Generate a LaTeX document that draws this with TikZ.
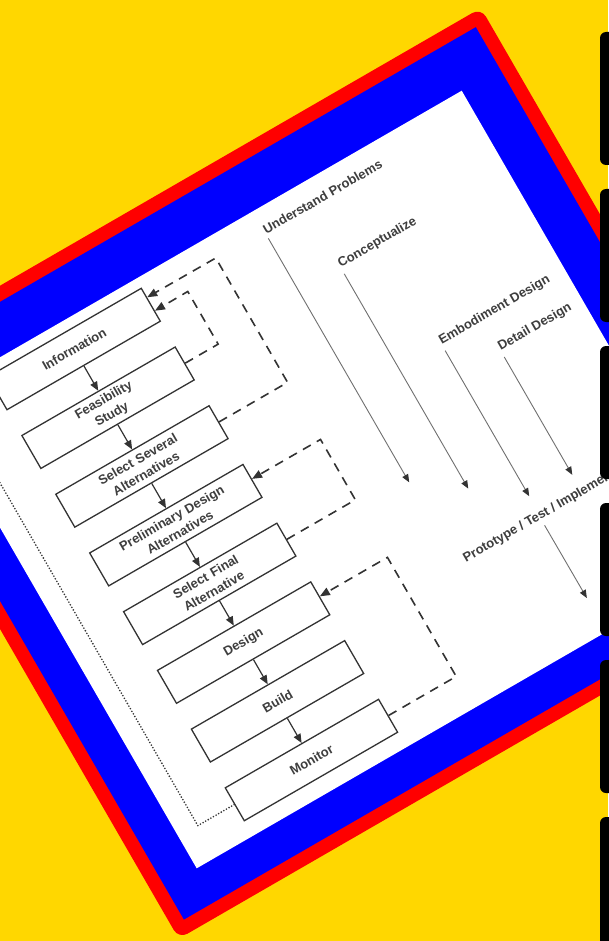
\documentclass[tikz,border=0pt]{standalone}
\usepackage{fontspec}
\setmainfont{Liberation Sans}
\usetikzlibrary{arrows.meta, calc}
\definecolor{bggold}{HTML}{FFD700}
\definecolor{framered}{HTML}{FF0000}
\definecolor{frameblue}{HTML}{0000FF}
\definecolor{inkgray}{HTML}{333333}
\definecolor{textgray}{HTML}{3E3E3E}
\definecolor{phasegray}{HTML}{707070}
\begin{document}
\begin{tikzpicture}[
    x=1pt, y=1pt,
  stagebox/.style={rectangle, draw=inkgray, line width=1.3pt, fill=white, minimum width=177pt, minimum height=38pt, text width=172pt, align=center, inner sep=0pt, text=textgray, font=\bfseries\fontsize{13}{16.5}\selectfont},
  phaselabel/.style={inner xsep=0pt, inner ysep=4pt, anchor=base west, text=textgray, font=\bfseries\fontsize{13}{16}\selectfont},
  phasearrow/.style={-{Triangle[length=8pt,width=6.5pt,color=inkgray]}, draw=phasegray, line width=0.9pt},
  flowarrow/.style={-{Triangle[length=9pt,width=7.5pt]}, draw=inkgray, line width=1.2pt},
  feedback/.style={-{Triangle[length=10pt,width=8pt]}, draw=inkgray, line width=1.6pt, dash pattern=on 9pt off 7pt},
  returnline/.style={draw=inkgray, line width=1.8pt, line cap=round, dash pattern=on 0pt off 3pt}
]
\useasboundingbox (0,0) rectangle (608,-941);
\fill[bggold] (0,0) rectangle (608,-941);

\begin{scope}[shift={(196.7,-868.3)}, rotate=30, transform shape]
% Frame
\fill[framered, rounded corners=10pt] (-50.7,-52) rectangle (676.3,602.9);
\fill[frameblue] (-36.7,-38) rectangle (662.3,588.9);
\fill[white] (0,0) rectangle (618.3,540.9);

% Stage boxes
\node[stagebox] (info) at (153.5,511) {Information};
\node[stagebox] (feas) at (153.5,443.2) {Feasibility\\Study};
\node[stagebox] (several) at (153.5,375.4) {Select Several\\Alternatives};
\node[stagebox] (prelim) at (153.5,307.6) {Preliminary Design\\Alternatives};
\node[stagebox] (final) at (153.5,239.8) {Select Final\\Alternative};
\node[stagebox] (design) at (153.5,172) {Design};
\node[stagebox] (build) at (153.5,104.2) {Build};
\node[stagebox] (monitor) at (153.5,36.4) {Monitor};

% Arrows
\draw[flowarrow] (info) -- (feas);
\draw[flowarrow] (feas) -- (several);
\draw[flowarrow] (several) -- (prelim);
\draw[flowarrow] (prelim) -- (final);
\draw[flowarrow] (final) -- (design);
\draw[flowarrow] (design) -- (build);
\draw[flowarrow] (build) -- (monitor);

% Feedback loops
\draw[feedback] (feas.east) -- ++(38,0) -- ++(0,60.8) -- ($(info.east)!0.37!(info.south east)$);
\draw[feedback] (several.east) -- ++(79,0) -- ++(0,143.6) -- ($(info.east)!0.42!(info.north east)$);
\draw[feedback] (final.east) -- ++(79,0) -- ++(0,69.7) -- ($(prelim.east)!0.1!(prelim.north east)$);
\draw[feedback] (monitor.east) -- ++(78,0) -- ++(0,137.5) -- ($(design.east)!0.1!(design.north east)$);
\draw[returnline] (monitor.west) -- ++(-42,0) -- ++(0,474.6) -- (info.west);

% Phases
\node[phaselabel] (understand) at (377,514) {Understand Problems};
\node[phaselabel] (conceptual) at (425,448) {Conceptualize};
\node[phaselabel] (embodiment) at (474,331) {Embodiment Design};
\node[phaselabel] (detail) at (522,296) {Detail Design};
\node[phaselabel] (prototype) at (386,130) {Prototype / Test / Implement};

\coordinate (understandEnd) at (377,228);
\coordinate (conceptualEnd) at (425,193);
\coordinate (embodimentEnd) at (474,156);
\coordinate (detailEnd) at (522,153);
\coordinate (prototypeEnd) at (473,39);

\draw[phasearrow] (understand.south west) -- (understandEnd);
\draw[phasearrow] (conceptual.south west) -- (conceptualEnd);
\draw[phasearrow] (embodiment.south west) -- (embodimentEnd);
\draw[phasearrow] (detail.south west) -- (detailEnd);
\draw[phasearrow] (prototype.south) -- (prototypeEnd);
\end{scope}

% Tabs on the right edge
\fill[black, rounded corners=6pt] (600,-32) rectangle (630,-165);
\fill[black, rounded corners=6pt] (600,-189) rectangle (630,-322);
\fill[black, rounded corners=6pt] (600,-346) rectangle (630,-479);
\fill[black, rounded corners=6pt] (600,-503) rectangle (630,-636);
\fill[black, rounded corners=6pt] (600,-660) rectangle (630,-793);
\fill[black, rounded corners=6pt] (600,-817) rectangle (630,-950);

\end{tikzpicture}
\end{document}
